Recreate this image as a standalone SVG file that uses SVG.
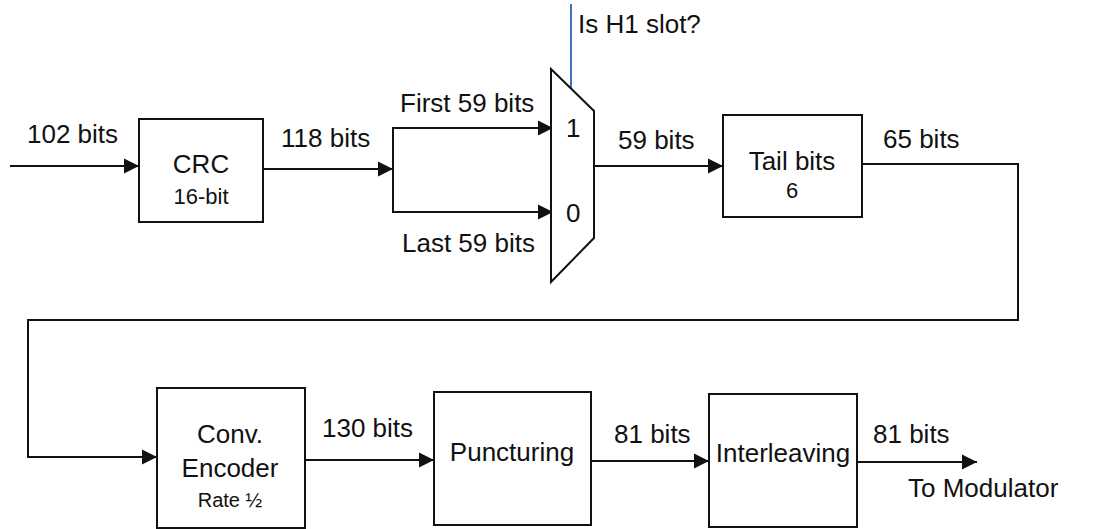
<svg xmlns="http://www.w3.org/2000/svg" width="1112" height="529" viewBox="0 0 1112 529">
<style>
text{font-family:"Liberation Sans",Arial,sans-serif;font-size:26px;fill:#111}
.sm{font-size:22px}
.xs{font-size:20px}
.c{text-anchor:middle}
.box{fill:#fff;stroke:#111;stroke-width:2}
.w{fill:none;stroke:#111;stroke-width:2}
</style>
<defs>
<marker id="ah" markerUnits="userSpaceOnUse" markerWidth="16" markerHeight="16" refX="15" refY="8" orient="auto">
<path d="M0,0.5 L15,8 L0,15.5 z" fill="#111"/>
</marker>
</defs>
<g id="connectors">
<path class="w" d="M10,166 H139" marker-end="url(#ah)"/>
<path class="w" d="M263,169 H393" marker-end="url(#ah)"/>
<path class="w" d="M393,170 V128 H553" marker-end="url(#ah)"/>
<path class="w" d="M393,170 V212 H553" marker-end="url(#ah)"/>
<path class="w" d="M594,166 H723" marker-end="url(#ah)"/>
<path class="w" d="M862,164 H1018 V320 H28 V457 H157" marker-end="url(#ah)"/>
<path class="w" d="M305,460 H434" marker-end="url(#ah)"/>
<path class="w" d="M591,461 H709" marker-end="url(#ah)"/>
<path class="w" d="M857,462 H977" marker-end="url(#ah)"/>
<path d="M571,4 V88" fill="none" stroke="#4472C4" stroke-width="2"/>
</g>
<g id="labels">
<text x="27" y="143">102 bits</text>
<text x="281" y="147">118 bits</text>
<text x="400" y="112">First 59 bits</text>
<text x="402" y="252">Last 59 bits</text>
<text x="578" y="33">Is H1 slot?</text>
<text x="618" y="149">59 bits</text>
<text x="883" y="148">65 bits</text>
<text x="322" y="437">130 bits</text>
<text x="614" y="443">81 bits</text>
<text x="873" y="443">81 bits</text>
<text x="908" y="497">To Modulator</text>
</g>
<g id="crc">
<rect class="box" x="139" y="119" width="124" height="103"/>
<text class="c" x="201" y="173">CRC</text>
<text class="c sm" x="201" y="204">16-bit</text>
</g>
<g id="mux">
<polygon class="box" points="551,69 594,111 594,238 551,282"/>
<text x="566" y="137">1</text>
<text x="566" y="222">0</text>
</g>
<g id="tail">
<rect class="box" x="723" y="115" width="139" height="102"/>
<text class="c" x="792" y="170">Tail bits</text>
<text class="c sm" x="792" y="198">6</text>
</g>
<g id="conv">
<rect class="box" x="157" y="388" width="148" height="140"/>
<text class="c" x="230" y="443">Conv.</text>
<text class="c" x="230" y="477">Encoder</text>
<text class="c xs" x="230" y="507">Rate ½</text>
</g>
<g id="punct">
<rect class="box" x="434" y="392" width="157" height="133"/>
<text class="c" x="512" y="461">Puncturing</text>
</g>
<g id="inter">
<rect class="box" x="709" y="394" width="148" height="133"/>
<text class="c" x="783" y="462">Interleaving</text>
</g>
</svg>
